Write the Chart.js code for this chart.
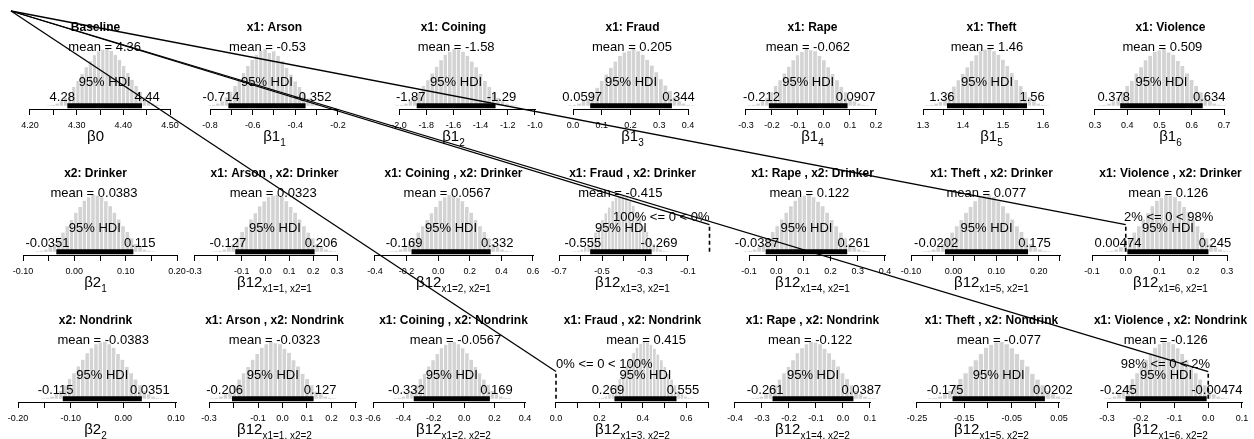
<!DOCTYPE html>
<html>
<head>
<meta charset="utf-8">
<title>Posterior grid</title>
<script src="https://cdn.jsdelivr.net/npm/chart.js@4/dist/chart.umd.min.js"></script>
<style>
  body { margin: 0; background: #fff; }
  #wrap { position: relative; width: 1254px; height: 439px; overflow: hidden; background: #fff; }
  #wrap canvas { position: absolute; }
  #overlay { pointer-events: none; z-index: 5; }
</style>
</head>
<body>
<div id="wrap"></div>
<script>
// ---- data ----
const panelTitles = [
  'Baseline', 'x1: Arson', 'x1: Coining', 'x1: Fraud', 'x1: Rape', 'x1: Theft', 'x1: Violence',
  'x2: Drinker', 'x1: Arson , x2: Drinker', 'x1: Coining , x2: Drinker', 'x1: Fraud , x2: Drinker',
  'x1: Rape , x2: Drinker', 'x1: Theft , x2: Drinker', 'x1: Violence , x2: Drinker',
  'x2: Nondrink', 'x1: Arson , x2: Nondrink', 'x1: Coining , x2: Nondrink', 'x1: Fraud , x2: Nondrink',
  'x1: Rape , x2: Nondrink', 'x1: Theft , x2: Nondrink', 'x1: Violence , x2: Nondrink'
];
const symbolMain = ['β0', 'β1', 'β1', 'β1', 'β1', 'β1', 'β1',
  'β2', 'β12', 'β12', 'β12', 'β12', 'β12', 'β12',
  'β2', 'β12', 'β12', 'β12', 'β12', 'β12', 'β12'];
const symbolSub = ['', '1', '2', '3', '4', '5', '6',
  '1', 'x1=1, x2=1', 'x1=2, x2=1', 'x1=3, x2=1', 'x1=4, x2=1', 'x1=5, x2=1', 'x1=6, x2=1',
  '2', 'x1=1, x2=2', 'x1=2, x2=2', 'x1=3, x2=2', 'x1=4, x2=2', 'x1=5, x2=2', 'x1=6, x2=2'];

const means = [4.36, -0.53, -1.58, 0.205, -0.062, 1.46, 0.509,
  0.0383, 0.0323, 0.0567, -0.415, 0.122, 0.077, 0.126,
  -0.0383, -0.0323, -0.0567, 0.415, -0.122, -0.077, -0.126];
const hdiLow = [4.28, -0.714, -1.87, 0.0597, -0.212, 1.36, 0.378,
  -0.0351, -0.127, -0.169, -0.555, -0.0387, -0.0202, 0.00474,
  -0.115, -0.206, -0.332, 0.269, -0.261, -0.175, -0.245];
const hdiHigh = [4.44, -0.352, -1.29, 0.344, 0.0907, 1.56, 0.634,
  0.115, 0.206, 0.332, -0.269, 0.261, 0.175, 0.245,
  0.0351, 0.127, 0.169, 0.555, 0.0387, 0.0202, -0.00474];

// percent of samples below the comparison value 0 (only where shown)
const compLess = [null, null, null, null, null, null, null,
  null, null, null, 100, null, null, 2,
  null, null, null, 0, null, null, 98];

const xMin = [4.1636, -0.8844, -2.2059, -0.0800, -0.3615, 1.265, 0.2783,
  -0.1195, -0.3084, -0.4253, -0.7419, -0.1699, -0.1047, -0.1119,
  -0.2095, -0.3694, -0.6132, -0.0276, -0.4185, -0.2669, -0.3563];
const xMax = [4.5171, -0.1109, -0.9926, 0.4939, 0.2731, 1.6775, 0.7899,
  0.2019, 0.3839, 0.6190, 0.0256, 0.4368, 0.2829, 0.3770,
  0.1038, 0.3041, 0.4724, 0.7322, 0.1926, 0.0817, 0.1326];

const tickValues = [
  [4.20, 4.25, 4.30, 4.35, 4.40, 4.45, 4.50],
  [-0.8, -0.7, -0.6, -0.5, -0.4, -0.3, -0.2],
  [-2.0, -1.8, -1.6, -1.4, -1.2, -1.0],
  [0.0, 0.1, 0.2, 0.3, 0.4],
  [-0.3, -0.2, -0.1, 0.0, 0.1, 0.2],
  [1.30, 1.35, 1.40, 1.45, 1.50, 1.55, 1.60],
  [0.3, 0.4, 0.5, 0.6, 0.7],
  [-0.10, -0.05, 0.00, 0.05, 0.10, 0.15, 0.20],
  [-0.3, -0.2, -0.1, 0.0, 0.1, 0.2, 0.3],
  [-0.4, -0.2, 0.0, 0.2, 0.4, 0.6],
  [-0.7, -0.6, -0.5, -0.4, -0.3, -0.2, -0.1],
  [-0.1, 0.0, 0.1, 0.2, 0.3, 0.4],
  [-0.10, -0.05, 0.00, 0.05, 0.10, 0.15, 0.20, 0.25],
  [-0.1, 0.0, 0.1, 0.2, 0.3],
  [-0.20, -0.15, -0.10, -0.05, 0.00, 0.05, 0.10],
  [-0.3, -0.2, -0.1, 0.0, 0.1, 0.2, 0.3],
  [-0.6, -0.4, -0.2, 0.0, 0.2, 0.4],
  [0.0, 0.1, 0.2, 0.3, 0.4, 0.5, 0.6, 0.7],
  [-0.4, -0.3, -0.2, -0.1, 0.0, 0.1],
  [-0.25, -0.20, -0.15, -0.10, -0.05, 0.00, 0.05],
  [-0.3, -0.2, -0.1, 0.0, 0.1]
];
const tickLabels = [
  ['4.20', '', '4.30', '', '4.40', '', '4.50'],
  ['-0.8', '', '-0.6', '', '-0.4', '', '-0.2'],
  ['-2.0', '-1.8', '-1.6', '-1.4', '-1.2', '-1.0'],
  ['0.0', '0.1', '0.2', '0.3', '0.4'],
  ['-0.3', '-0.2', '-0.1', '0.0', '0.1', '0.2'],
  ['1.3', '', '1.4', '', '1.5', '', '1.6'],
  ['0.3', '0.4', '0.5', '0.6', '0.7'],
  ['-0.10', '', '0.00', '', '0.10', '', '0.20'],
  ['-0.3', '', '-0.1', '0.0', '0.1', '0.2', '0.3'],
  ['-0.4', '-0.2', '0.0', '0.2', '0.4', '0.6'],
  ['-0.7', '', '-0.5', '', '-0.3', '', '-0.1'],
  ['-0.1', '0.0', '0.1', '0.2', '0.3', '0.4'],
  ['-0.10', '', '0.00', '', '0.10', '', '0.20', ''],
  ['-0.1', '0.0', '0.1', '0.2', '0.3'],
  ['-0.20', '', '-0.10', '', '0.00', '', '0.10'],
  ['-0.3', '', '-0.1', '0.0', '0.1', '0.2', '0.3'],
  ['-0.6', '-0.4', '-0.2', '0.0', '0.2', '0.4'],
  ['0.0', '', '0.2', '', '0.4', '', '0.6', ''],
  ['-0.4', '-0.3', '-0.2', '-0.1', '0.0', '0.1'],
  ['-0.25', '', '-0.15', '', '-0.05', '', '0.05'],
  ['-0.3', '-0.2', '-0.1', '0.0', '0.1']
];

// histogram bar heights (relative), 5 bins before the HDI, 18 inside, 5 after
const histCounts = [
  [1, 2, 4, 8, 14, 23, 33, 44, 56, 68, 79, 89, 96, 99, 100, 97, 90, 81, 70, 58, 46, 35, 25, 15, 8, 4, 2, 1],
  [1, 2, 4, 8, 15, 25, 35, 46, 58, 70, 81, 90, 97, 100, 93, 96, 88, 79, 67, 55, 43, 33, 23, 13, 7, 4, 2, 1],
  [1, 2, 4, 9, 15, 24, 35, 45, 57, 69, 80, 90, 95, 100, 99, 95, 88, 78, 68, 56, 44, 33, 23, 14, 8, 4, 2, 1],
  [1, 2, 4, 8, 13, 22, 32, 44, 55, 67, 78, 88, 94, 97, 100, 96, 90, 81, 71, 59, 47, 36, 26, 15, 8, 4, 2, 1],
  [1, 2, 4, 8, 14, 24, 35, 45, 57, 69, 80, 89, 95, 100, 98, 96, 88, 80, 68, 56, 45, 33, 24, 14, 8, 4, 2, 1],
  [1, 2, 4, 7, 13, 23, 34, 45, 56, 68, 79, 89, 96, 99, 100, 96, 90, 81, 70, 58, 46, 35, 25, 15, 8, 4, 2, 1],
  [1, 2, 4, 8, 14, 25, 35, 44, 57, 68, 80, 88, 95, 98, 100, 94, 90, 79, 70, 57, 46, 35, 24, 14, 8, 4, 2, 1],
  [1, 2, 4, 8, 14, 24, 34, 45, 56, 69, 79, 90, 96, 100, 99, 96, 89, 80, 69, 57, 45, 35, 24, 14, 8, 4, 2, 1],
  [1, 2, 4, 8, 14, 24, 35, 44, 57, 68, 80, 89, 97, 99, 100, 97, 89, 79, 69, 57, 45, 34, 24, 14, 8, 4, 2, 1],
  [1, 2, 4, 8, 14, 24, 34, 45, 56, 68, 79, 90, 96, 100, 99, 95, 89, 79, 69, 56, 45, 35, 24, 14, 8, 4, 2, 1],
  [1, 2, 4, 8, 13, 24, 34, 44, 56, 68, 78, 89, 95, 99, 100, 96, 89, 81, 69, 58, 45, 35, 24, 14, 8, 4, 2, 1],
  [1, 2, 4, 8, 14, 24, 35, 45, 57, 69, 80, 90, 96, 99, 100, 96, 88, 80, 69, 56, 45, 34, 24, 14, 8, 4, 2, 1],
  [1, 2, 4, 8, 14, 25, 34, 45, 56, 69, 79, 89, 97, 99, 100, 97, 89, 80, 68, 57, 45, 35, 24, 14, 8, 4, 2, 1],
  [1, 2, 4, 8, 14, 24, 34, 45, 57, 68, 80, 90, 95, 100, 99, 96, 89, 79, 70, 57, 45, 34, 24, 14, 8, 4, 2, 1],
  [1, 2, 4, 8, 14, 24, 35, 45, 57, 69, 80, 89, 96, 99, 100, 96, 90, 79, 69, 56, 45, 34, 24, 14, 8, 4, 2, 1],
  [1, 2, 4, 8, 13, 24, 34, 45, 56, 69, 79, 90, 96, 100, 98, 96, 88, 81, 68, 57, 44, 35, 24, 13, 8, 4, 2, 1],
  [1, 2, 4, 8, 14, 24, 35, 44, 57, 68, 79, 89, 95, 99, 100, 96, 89, 80, 69, 56, 45, 34, 25, 14, 8, 4, 2, 1],
  [1, 2, 4, 8, 14, 24, 35, 45, 58, 69, 81, 90, 97, 100, 99, 95, 88, 78, 68, 56, 44, 34, 24, 14, 8, 4, 2, 1],
  [1, 2, 4, 8, 14, 24, 34, 45, 56, 68, 80, 89, 96, 100, 99, 96, 88, 80, 69, 57, 45, 35, 24, 14, 8, 4, 2, 1],
  [1, 2, 4, 8, 14, 25, 35, 45, 57, 68, 79, 90, 95, 99, 100, 96, 89, 79, 69, 57, 44, 34, 24, 14, 8, 4, 2, 1],
  [1, 2, 4, 8, 14, 24, 35, 45, 57, 69, 80, 90, 96, 99, 100, 96, 89, 79, 69, 56, 45, 34, 24, 14, 8, 4, 2, 1]
];
const BINS_BEFORE_HDI = 5;
const BINS_IN_HDI = 18;

// ---- layout ----
const FONT = '"Liberation Sans", Arial, Helvetica, sans-serif';
const cellLeft = [0, 179, 358, 537, 717, 896, 1075];
const rowTop = [0, 146, 293];
const EXT = 14;            // canvases overlap neighbours so labels can spill over
const CW = 179 + 2 * EXT;
const CH = 156;
const AREA_TOP = 49;
const AREA_BOTTOM = 109;
const PLOT_L = 13, PLOT_R = 178;
const ORIGIN = [11, 11];   // stray segments in the original start here

Chart.defaults.font.family = FONT;
Chart.defaults.color = '#000';

const wrap = document.getElementById('wrap');
const charts = [];

function makePanel(i) {
  const col = i % 7, row = Math.floor(i / 7);
  const canvas = document.createElement('canvas');
  canvas.width = CW;
  canvas.height = CH;
  canvas.style.left = (cellLeft[col] - EXT) + 'px';
  canvas.style.top = rowTop[row] + 'px';
  wrap.appendChild(canvas);

  const lo = hdiLow[i], hi = hdiHigh[i];
  const binW = (hi - lo) / BINS_IN_HDI;
  const start = lo - BINS_BEFORE_HDI * binW;
  const counts = histCounts[i];
  const M = Math.max(...counts);
  const bars = counts.map((c, k) => ({ x: start + (k + 0.5) * binW, y: c }));

  const textPlugin = {
    id: 'postText' + i,
    afterDraw(chart) {
      const { ctx, chartArea: a, scales: { x, y } } = chart;
      const y0 = y.getPixelForValue(0);
      const cx = (a.left + a.right) / 2;
      ctx.save();
      ctx.fillStyle = '#000';
      ctx.strokeStyle = '#000';

      // axis line between first and last tick
      const tv = tickValues[i];
      ctx.lineWidth = 1;
      ctx.beginPath();
      ctx.moveTo(Math.round(x.getPixelForValue(tv[0])), a.bottom + 0.5);
      ctx.lineTo(Math.round(x.getPixelForValue(tv[tv.length - 1])) + 1, a.bottom + 0.5);
      ctx.stroke();

      ctx.textBaseline = 'alphabetic';
      ctx.textAlign = 'center';
      ctx.font = `bold 12px ${FONT}`;
      ctx.fillText(panelTitles[i], cx, 31);

      ctx.font = `13px ${FONT}`;
      ctx.fillText(`mean = ${means[i]}`, x.getPixelForValue(means[i]), y.getPixelForValue(0.9 * M) - 4);
      ctx.fillText('95% HDI', x.getPixelForValue((lo + hi) / 2), y0 - 20);

      ctx.textAlign = 'left';
      const t1 = String(lo), t2 = String(hi);
      const w1 = ctx.measureText(t1).width, w2 = ctx.measureText(t2).width;
      ctx.fillText(t1, x.getPixelForValue(lo) - 0.7 * w1, y0 - 4.5);
      ctx.fillText(t2, x.getPixelForValue(hi) - 0.3 * w2, y0 - 4.5);

      if (compLess[i] !== null) {
        const lt = compLess[i];
        const txt = `${lt}% <= 0 < ${100 - lt}%`;
        const w = ctx.measureText(txt).width;
        const px = x.getPixelForValue(0);
        ctx.fillText(txt, px - (lt / 100) * w, y.getPixelForValue(0.54 * M));
        ctx.lineWidth = 1.6;
        ctx.setLineDash([4, 3]);
        ctx.beginPath();
        ctx.moveTo(px, y0);
        ctx.lineTo(px, y.getPixelForValue(0.44 * M));
        ctx.stroke();
        ctx.setLineDash([]);
      }

      // axis title with subscript
      ctx.font = `15px ${FONT}`;
      const mw = ctx.measureText(symbolMain[i]).width;
      ctx.font = `10px ${FONT}`;
      const sw = ctx.measureText(symbolSub[i]).width;
      const sx = cx - (mw + sw) / 2;
      ctx.font = `15px ${FONT}`;
      ctx.fillText(symbolMain[i], sx, 141);
      ctx.font = `10px ${FONT}`;
      ctx.fillText(symbolSub[i], sx + mw, 146);
      ctx.restore();
    }
  };

  const chart = new Chart(canvas, {
    type: 'bar',
    data: {
      datasets: [
        {
          type: 'line',
          data: [{ x: lo, y: 0 }, { x: hi, y: 0 }],
          borderColor: '#000',
          borderWidth: 5,
          borderCapStyle: 'butt',
          pointRadius: 0,
          order: 0
        },
        {
          data: bars,
          backgroundColor: '#d3d3d3',
          borderColor: '#fff',
          borderWidth: { left: 1, right: 0, top: 0, bottom: 0 },
          borderSkipped: false,
          barPercentage: 1,
          categoryPercentage: 1,
          order: 1
        }
      ]
    },
    options: {
      responsive: false,
      animation: false,
      devicePixelRatio: 1,
      events: [],
      layout: { padding: { left: EXT + PLOT_L, right: CW - (EXT + PLOT_R), top: AREA_TOP, bottom: 0 } },
      plugins: { legend: { display: false }, tooltip: { enabled: false }, title: { display: false } },
      scales: {
        x: {
          type: 'linear',
          min: xMin[i],
          max: xMax[i],
          offset: false,
          afterBuildTicks: axis => { axis.ticks = tickValues[i].map(v => ({ value: v })); },
          afterFit: s => { s.height = CH - AREA_BOTTOM; s.paddingLeft = 0; s.paddingRight = 0; },
          border: { display: false },
          grid: { offset: false, drawOnChartArea: false, drawTicks: true, tickLength: 6, color: '#000', lineWidth: 1 },
          ticks: {
            autoSkip: false,
            maxRotation: 0,
            minRotation: 0,
            padding: 5,
            color: '#000',
            font: { size: 9 },
            callback: (v, idx) => tickLabels[i][idx]
          }
        },
        y: { display: false, min: -0.055 * M, max: M }
      }
    },
    plugins: [textPlugin]
  });
  charts.push({ chart, left: cellLeft[col] - EXT, top: rowTop[row], M });
}

for (let i = 0; i < panelTitles.length; i++) makePanel(i);

// stray straight segments from the top-left corner to each comparison line
const overlay = document.createElement('canvas');
overlay.id = 'overlay';
overlay.width = 1254;
overlay.height = 439;
overlay.style.left = '0px';
overlay.style.top = '0px';
wrap.appendChild(overlay);
const octx = overlay.getContext('2d');
octx.strokeStyle = '#000';
octx.lineWidth = 1.3;
compLess.forEach((v, i) => {
  if (v === null) return;
  const { chart, left, top, M } = charts[i];
  const ex = left + chart.scales.x.getPixelForValue(0);
  const ey = top + chart.scales.y.getPixelForValue(0.48 * M);
  octx.beginPath();
  octx.moveTo(ORIGIN[0], ORIGIN[1]);
  octx.lineTo(ex, ey);
  octx.stroke();
});
</script>
</body>
</html>
